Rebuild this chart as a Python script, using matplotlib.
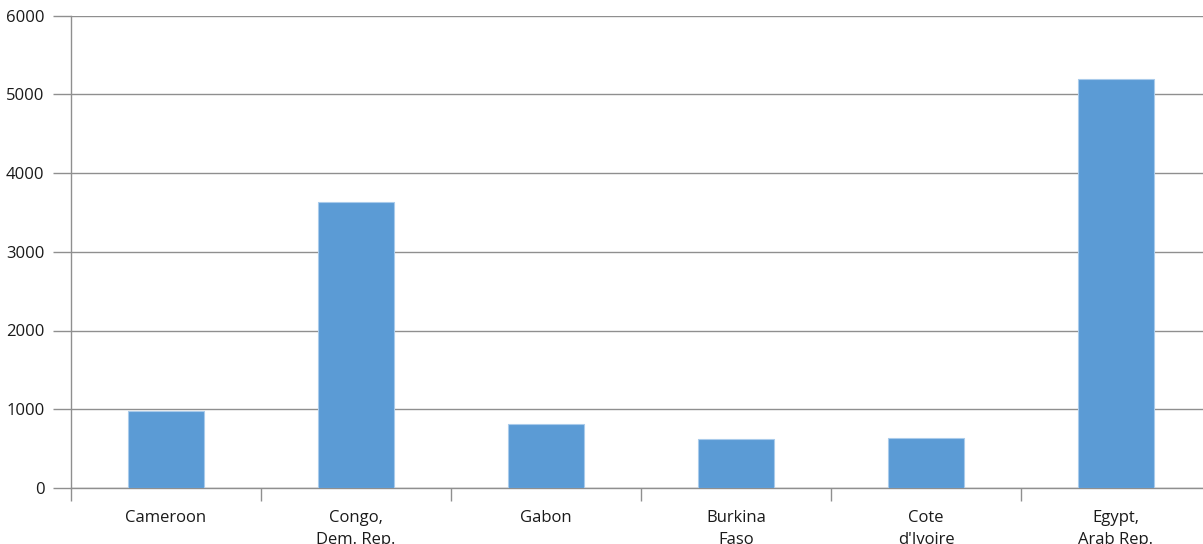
import numpy as np
import matplotlib.pyplot as plt
from matplotlib.ticker import FixedLocator, NullFormatter

# values per country
countries = ["Cameroon", "Congo,\nDem. Rep.", "Gabon", "Burkina\nFaso", "Cote\nd'Ivoire", "Egypt,\nArab Rep."]
values = [975, 3630, 812, 622, 638, 5197]
y_ticks = [0, 1000, 2000, 3000, 4000, 5000, 6000]

BAR_COLOR = "#5B9BD5"
GRID_COLOR = "#8f8f8f"

plt.rcParams["font.family"] = ["Open Sans", "DejaVu Sans"]

fig = plt.figure(figsize=(12.03, 5.44), dpi=100)
ax = fig.add_axes([71 / 1203, 56 / 544, 1140 / 1203, 472.5 / 544])

x = np.arange(len(countries))
ax.bar(x, values, width=0.4, color=BAR_COLOR, edgecolor="#a9cbeb", linewidth=0.8, zorder=3)

ax.set_xlim(-0.5, len(countries) - 0.5)
ax.set_ylim(0, 6000)

# horizontal gridlines
ax.set_yticks(y_ticks)
ax.set_yticklabels([str(v) for v in y_ticks])
ax.grid(axis="y", color=GRID_COLOR, linewidth=1.0, zorder=0)
ax.tick_params(axis="y", length=13, width=1.0, color=GRID_COLOR, pad=6,
               labelsize=12, labelcolor="#1a1a1a")

# category boundaries as major ticks, names on minor ticks
ax.xaxis.set_major_locator(FixedLocator(np.arange(len(countries)) - 0.5))
ax.xaxis.set_major_formatter(NullFormatter())
ax.xaxis.set_minor_locator(FixedLocator(x))
ax.set_xticklabels(countries, minor=True, linespacing=1.45)
ax.tick_params(axis="x", which="major", length=9, width=1.0, color=GRID_COLOR, direction="out")
ax.tick_params(axis="x", which="minor", length=0, pad=16, labelsize=12, labelcolor="#1a1a1a")
for lbl in ax.get_xticklabels(minor=True):
    lbl.set_verticalalignment("top")

for side in ["top", "right"]:
    ax.spines[side].set_visible(False)
for side in ["left", "bottom"]:
    ax.spines[side].set_color(GRID_COLOR)
    ax.spines[side].set_linewidth(1.0)

fig.savefig("out.png", dpi=100)
